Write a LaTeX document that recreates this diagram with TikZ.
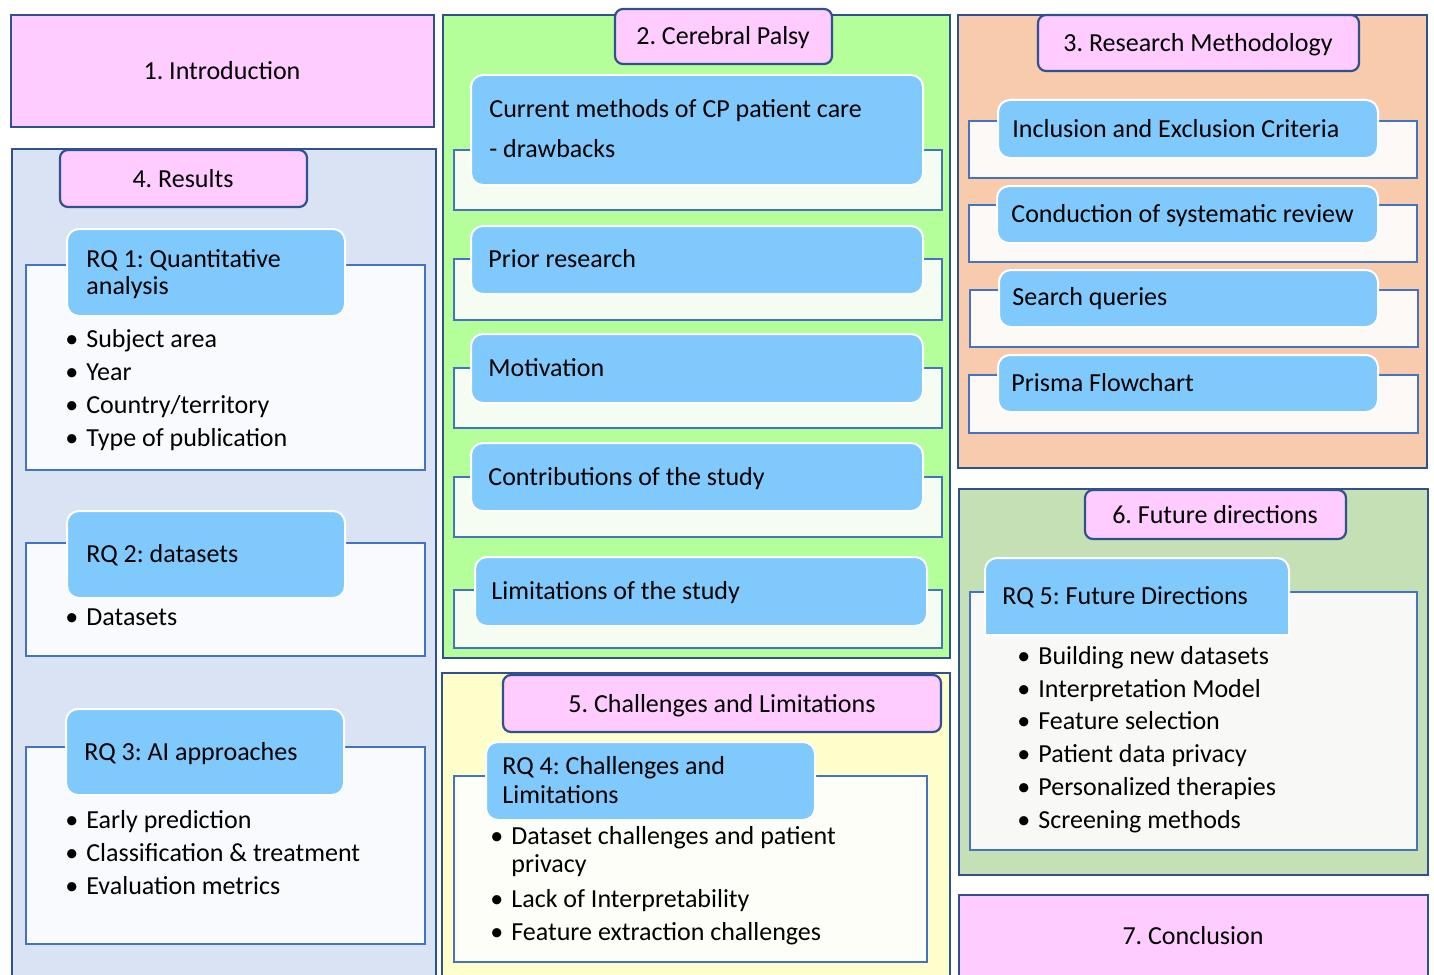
\documentclass[tikz,border=0pt]{standalone}
\usepackage{fontspec}
\setmainfont{Carlito}
\frenchspacing

\definecolor{hdpink}{RGB}{255,204,255}
\definecolor{edgeblue}{RGB}{47,82,143}
\definecolor{lineblue}{RGB}{68,114,196}
\definecolor{rqblue}{RGB}{127,201,252}
\definecolor{resbg}{RGB}{218,227,243}
\definecolor{cpbg}{RGB}{180,255,153}
\definecolor{methbg}{RGB}{248,203,173}
\definecolor{chalbg}{RGB}{255,255,204}
\definecolor{futbg}{RGB}{197,224,180}
\definecolor{resin}{RGB}{249,250,253}
\definecolor{cpin}{RGB}{245,252,242}
\definecolor{methin}{RGB}{253,249,246}
\definecolor{chalin}{RGB}{254,254,248}
\definecolor{futin}{RGB}{248,249,247}

\newcommand{\rqbullet}{\llap{\textbullet\hspace{4pt}}}

\tikzset{
  outerbox/.style={draw=edgeblue, line width=1.2pt},
  headbox/.style={draw=edgeblue, fill=hdpink, line width=1.1pt, rounded corners=4pt},
  innerbox/.style={draw=lineblue, line width=1pt},
  rqbox/.style={draw=white, fill=rqblue, line width=1pt, rounded corners=6pt},
  txt/.style={inner sep=0pt, anchor=base west},
  htxt/.style={inner sep=0pt, anchor=base}
}

\begin{document}
\begin{tikzpicture}[x=0.5pt,y=0.5pt,yscale=-1,font=\fontsize{13}{15}\selectfont]
\useasboundingbox (0,0) rectangle (1434,974);

%Shape: Rectangle [1. Introduction]
\draw[outerbox, fill=hdpink] (11,15) rectangle (434,127);
% Text Node
\draw (222,80) node [htxt] (intro) {1. Introduction};

%Shape: Rectangle [4. Results]
\draw[outerbox, fill=resbg] (12,149) rectangle (436,990);
\draw[headbox] (60,150) rectangle (307,207);
% Text Node
\draw (183,187) node [htxt] (results) {4. Results};

%Shape: RQ 1
\draw[innerbox, fill=resin] (26,265) rectangle (425,470);
\draw[rqbox] (67,229) rectangle (345,316);
% Text Node
\draw (86,267) node [txt] (rqa) {RQ 1: Quantitative};
\draw (86,294) node [txt] (rqb) {analysis};
% Text Node
\draw (86,347) node [txt] (subj) {\rqbullet Subject area};
\draw (86,380) node [txt] (year) {\rqbullet Year};
\draw (86,413) node [txt] (country) {\rqbullet Country/territory};
\draw (86,446) node [txt] (pubtype) {\rqbullet Type of publication};

%Shape: RQ 2
\draw[innerbox, fill=resin] (26,543) rectangle (425,656);
\draw[rqbox] (67,511) rectangle (345,598);
% Text Node
\draw (86,562) node [txt] (rqc) {RQ 2: datasets};
\draw (86,625) node [txt] (datasets) {\rqbullet Datasets};

%Shape: RQ 3
\draw[innerbox, fill=resin] (26,747) rectangle (425,944);
\draw[rqbox] (66,709) rectangle (344,795);
% Text Node
\draw (84,760) node [txt] (rqd) {RQ 3: AI approaches};
\draw (86,828) node [txt] (early) {\rqbullet Early prediction};
\draw (86,861) node [txt] (classif) {\rqbullet Classification \& treatment};
\draw (86,894) node [txt] (evalm) {\rqbullet Evaluation metrics};

%Shape: Rectangle [2. Cerebral Palsy]
\draw[outerbox, fill=cpbg] (443,15) rectangle (950,658);
\draw[headbox] (615,9) rectangle (832,64);
% Text Node
\draw (723,45) node [htxt] (palsy) {2. Cerebral Palsy};

%Shape: CP items
\draw[innerbox, fill=cpin] (454,150) rectangle (942,210);
\draw[rqbox] (471,75) rectangle (923,185);
\draw (489,118) node [txt] (curra) {Current methods of CP patient care};
\draw (489,157) node [txt] (currb) {- drawbacks};

\draw[innerbox, fill=cpin] (454,259) rectangle (942,320);
\draw[rqbox] (471,226) rectangle (923,294);
\draw (488,267) node [txt] (prior) {Prior research};

\draw[innerbox, fill=cpin] (454,368) rectangle (942,428);
\draw[rqbox] (471,334) rectangle (923,403);
\draw (488,376) node [txt] (motiv) {Motivation};

\draw[innerbox, fill=cpin] (454,477) rectangle (942,537);
\draw[rqbox] (471,443) rectangle (923,511);
\draw (488,485) node [txt] (contrib) {Contributions of the study};

\draw[innerbox, fill=cpin] (454,590) rectangle (942,648);
\draw[rqbox] (475,557) rectangle (927,626);
\draw (491,599) node [txt] (limits) {Limitations of the study};

%Shape: Rectangle [3. Research Methodology]
\draw[outerbox, fill=methbg] (958,15) rectangle (1427,468);
\draw[headbox] (1038,15) rectangle (1359,71);
% Text Node
\draw (1198,52) node [htxt] (method) {3. Research Methodology};

%Shape: Methodology items
\draw[innerbox, fill=methin] (969,121) rectangle (1417,178);
\draw[rqbox] (998,100) rectangle (1378,158);
\draw (1012,137) node [txt] (incl) {Inclusion and Exclusion Criteria};

\draw[innerbox, fill=methin] (969,205) rectangle (1417,262);
\draw[rqbox] (997,186) rectangle (1378,243);
\draw (1011,222) node [txt] (conduct) {Conduction of systematic review};

\draw[innerbox, fill=methin] (970,290) rectangle (1418,347);
\draw[rqbox] (999,270) rectangle (1378,327);
\draw (1012,305) node [txt] (search) {Search queries};

\draw[innerbox, fill=methin] (969,375) rectangle (1418,433);
\draw[rqbox] (998,355) rectangle (1378,412);
\draw (1011,391) node [txt] (prisma) {Prisma Flowchart};

%Shape: Rectangle [5. Challenges and Limitations]
\draw[outerbox, fill=chalbg] (442,673) rectangle (950,990);
\draw[headbox] (503,675) rectangle (941,732);
% Text Node
\draw (722,712) node [htxt] (chall) {5. Challenges and Limitations};

%Shape: RQ 4
\draw[innerbox, fill=chalin] (454,776) rectangle (927,962);
\draw[rqbox] (486,742) rectangle (815,820);
% Text Node
\draw (502,774) node [txt] (rqe) {RQ 4: Challenges and};
\draw (502,803) node [txt] (rqf) {Limitations};
\draw (511,844) node [txt] (dschall) {\rqbullet Dataset challenges and patient};
\draw (511,872) node [txt] (dschallb) {privacy};
\draw (511,907) node [txt] (interp) {\rqbullet Lack of Interpretability};
\draw (511,940) node [txt] (featx) {\rqbullet Feature extraction challenges};

%Shape: Rectangle [6. Future directions]
\draw[outerbox, fill=futbg] (959,489) rectangle (1428,875);
\draw[headbox] (1085,490) rectangle (1346,539);
% Text Node
\draw (1215,523) node [htxt] (future) {6. Future directions};

%Shape: RQ 5
\draw[innerbox, fill=futin] (970,592) rectangle (1417,850);
\draw[rqbox, rounded corners=0pt] (985,635) {[rounded corners=6pt] -- (985,558) -- (1289,558)} -- (1289,635) -- cycle;
% Text Node
\draw (1002,604) node [txt] (rqg) {RQ 5: Future Directions};
\draw (1038,664) node [txt] (build) {\rqbullet Building new datasets};
\draw (1038,697) node [txt] (interpm) {\rqbullet Interpretation Model};
\draw (1038,729) node [txt] (featsel) {\rqbullet Feature selection};
\draw (1038,762) node [txt] (privacy) {\rqbullet Patient data privacy};
\draw (1038,795) node [txt] (personal) {\rqbullet Personalized therapies};
\draw (1038,828) node [txt] (screen) {\rqbullet Screening methods};

%Shape: Rectangle [7. Conclusion]
\draw[outerbox, fill=hdpink] (959,895) rectangle (1428,990);
% Text Node
\draw (1193,944) node [htxt] (concl) {7. Conclusion};

\end{tikzpicture}
\end{document}
